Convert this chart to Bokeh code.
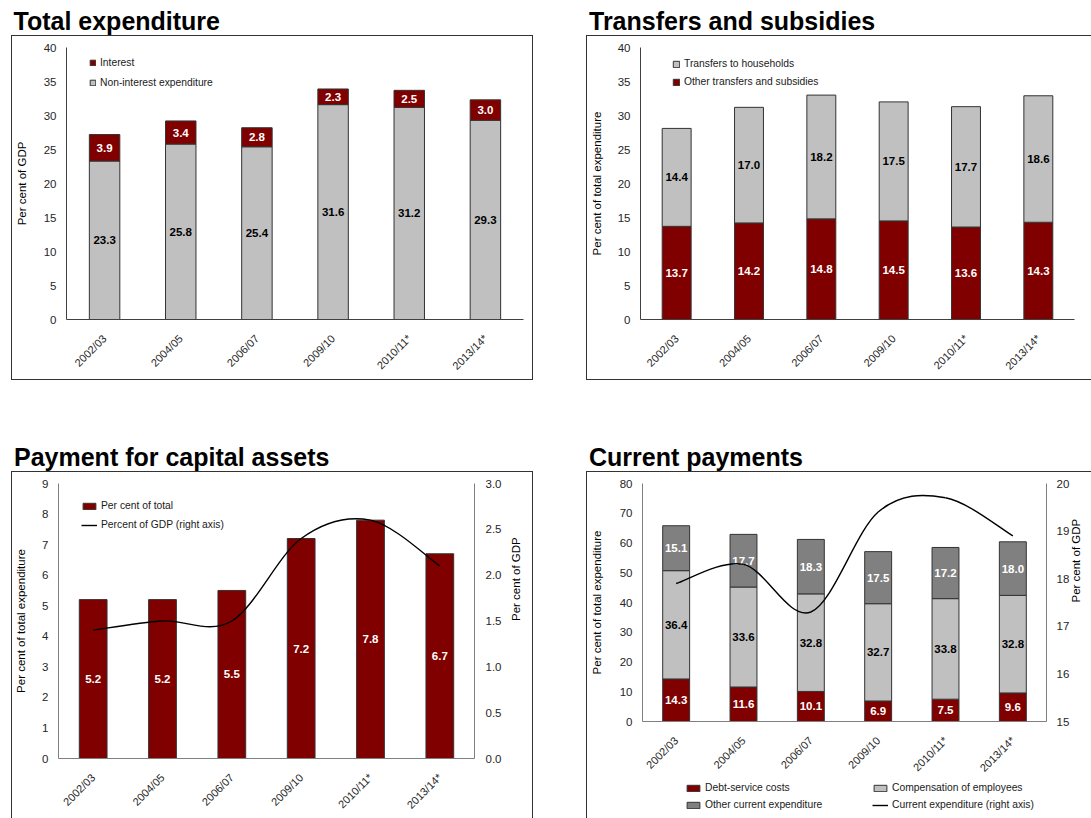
import math
from bokeh.plotting import figure
from bokeh.models import (Range1d, LinearAxis, FixedTicker, SingleIntervalTicker, Legend,
                          LegendItem, Label, PrintfTickFormatter)
from bokeh.layouts import column, row
from bokeh.embed import file_html
from bokeh.resources import INLINE
from bokeh.core.properties import value

# ---------------- data ----------------
categories = ["2002/03", "2004/05", "2006/07", "2009/10", "2010/11*", "2013/14*"]

# Total expenditure (per cent of GDP)
te_non_interest = [23.3, 25.8, 25.4, 31.6, 31.2, 29.3]
te_interest = [3.9, 3.4, 2.8, 2.3, 2.5, 3.0]

# Transfers and subsidies (per cent of total expenditure)
ts_other = [13.7, 14.2, 14.8, 14.5, 13.6, 14.3]
ts_households = [14.4, 17.0, 18.2, 17.5, 17.7, 18.6]

# Payment for capital assets
cap_share = [5.2, 5.2, 5.5, 7.2, 7.8, 6.7]      # per cent of total expenditure
cap_gdp = [1.4, 1.5, 1.5, 2.4, 2.6, 2.1]        # per cent of GDP (right axis)

# Current payments
cp_debt = [14.3, 11.6, 10.1, 6.9, 7.5, 9.6]
cp_comp = [36.4, 33.6, 32.8, 32.7, 33.8, 32.8]
cp_other = [15.1, 17.7, 18.3, 17.5, 17.2, 18.0]
cp_gdp = [17.9, 18.3, 17.3, 19.4, 19.7, 18.9]   # per cent of GDP (right axis)

# ---------------- style ----------------
MAROON = "#800000"
LIGHT = "#C0C0C0"
DARK = "#808080"
EDGE = "#333333"
FONT = "Liberation Sans"
BAR_W = 0.4
BOX = {"outline": "1.5px solid #333333"}
NAN = [float("nan")]

xs = list(range(len(categories)))


def style_axis(ax, color):
    ax.axis_line_color = color
    ax.axis_line_width = 1
    ax.major_tick_line_color = None
    ax.minor_tick_line_color = None
    ax.major_tick_out = 0
    ax.major_tick_in = 0
    ax.major_label_standoff = 10
    ax.major_label_text_font = FONT
    ax.major_label_text_font_size = "11.5px"
    ax.major_label_text_color = "#262626"
    ax.axis_label_text_font = FONT
    ax.axis_label_text_font_size = "11.5px"
    ax.axis_label_text_font_style = "normal"
    ax.axis_label_text_color = "black"


def blank_fig(width, height):
    p = figure(width=width, height=height, title=None,
               x_range=Range1d(0, width), y_range=Range1d(0, height),
               x_axis_location=None, y_axis_location=None,
               output_backend="svg", toolbar_location=None, tools="",
               min_border=0, frame_align=False)
    p.outline_line_color = None
    p.xgrid.visible = False
    p.ygrid.visible = False
    return p


def title_fig(text, width, x):
    p = blank_fig(width, 36)
    p.add_layout(Label(x=x, y=16, text=text, text_font=FONT, text_font_size="25px",
                       text_font_style="bold", text_color="black",
                       text_baseline="alphabetic"))
    return p


def body_fig(width, height, left, right, top, bottom, y_start, y_end, y_step,
             axis_color, label, label_standoff, margin, styles):
    p = figure(width=width, height=height, title=None,
               x_range=Range1d(-0.5, len(categories) - 0.5),
               y_range=Range1d(y_start, y_end),
               output_backend="svg", toolbar_location=None, tools="",
               min_border_left=left, min_border_right=width - right,
               min_border_top=top, min_border_bottom=height - bottom,
               frame_align=False, margin=margin, styles=styles)
    p.outline_line_color = None
    p.xgrid.visible = False
    p.ygrid.visible = False
    p.background_fill_color = "white"
    p.border_fill_color = "white"

    xa = p.xaxis[0]
    xa.ticker = FixedTicker(ticks=xs)
    xa.major_label_overrides = {i: c for i, c in enumerate(categories)}
    xa.major_label_orientation = math.pi / 4
    ya = p.yaxis[0]
    ya.ticker = SingleIntervalTicker(interval=y_step, num_minor_ticks=0)
    ya.axis_label = label
    for ax in (xa, ya):
        style_axis(ax, axis_color)
    ya.axis_label_standoff = label_standoff
    xa.major_label_text_font_size = "11px"
    xa.major_label_standoff = 17
    return p


def bar_labels(p, bottoms, vals, color):
    mids = [b + v / 2 for b, v in zip(bottoms, vals)]
    p.text(x=xs, y=mids, text=[f"{v:.1f}" for v in vals],
           text_align="center", text_baseline="middle",
           text_font=value(FONT), text_font_size="11.5px", text_font_style="bold",
           text_color=color)


def smooth_line(p, ys, y_range_name):
    n = len(ys)
    x0, y0, x1, y1, cx0, cy0, cx1, cy1 = [], [], [], [], [], [], [], []
    for i in range(n - 1):
        ip = max(i - 1, 0)
        inx = min(i + 2, n - 1)
        x0.append(xs[i]); y0.append(ys[i])
        x1.append(xs[i + 1]); y1.append(ys[i + 1])
        cx0.append(xs[i] + (xs[i + 1] - xs[ip]) / 6)
        cy0.append(ys[i] + (ys[i + 1] - ys[ip]) / 6)
        cx1.append(xs[i + 1] - (xs[inx] - xs[i]) / 6)
        cy1.append(ys[i + 1] - (ys[inx] - ys[i]) / 6)
    return p.bezier(x0=x0, y0=y0, x1=x1, y1=y1, cx0=cx0, cy0=cy0, cx1=cx1, cy1=cy1,
                    line_color="black", line_width=1.4, y_range_name=y_range_name)


def make_legend(items, x, y, gw, gh, spacing):
    return Legend(items=items, location=(x, y), orientation="vertical",
                  glyph_width=gw, glyph_height=gh, label_height=gh,
                  label_standoff=4, spacing=spacing, padding=0, margin=0,
                  border_line_alpha=0, background_fill_alpha=0,
                  label_text_font=FONT, label_text_font_size="10.3px",
                  label_text_color="#1a1a1a")


# ---------------- Panel 1: Total expenditure ----------------
t1 = title_fig("Total expenditure", 575, 13)
p1 = body_fig(520, 343, 54, 511, 11, 286, 0, 40, 5,
              "#404040", "Per cent of GDP", 13, (0, 43, 57, 12), BOX)
r_non = p1.vbar(x=xs, bottom=0, top=te_non_interest, width=BAR_W,
                fill_color=LIGHT, line_color=EDGE, line_width=1)
te_tot = [a + b for a, b in zip(te_non_interest, te_interest)]
r_int = p1.vbar(x=xs, bottom=te_non_interest, top=te_tot, width=BAR_W,
                fill_color=MAROON, line_color=EDGE, line_width=1)
bar_labels(p1, [0] * 6, te_non_interest, "black")
bar_labels(p1, te_non_interest, te_interest, "white")
p1.add_layout(make_legend([LegendItem(label="Interest", renderers=[r_int]),
                           LegendItem(label="Non-interest expenditure", renderers=[r_non])],
                          23, 231, 7, 7, 9))

# ---------------- Panel 2: Transfers and subsidies ----------------
t2 = title_fig("Transfers and subsidies", 516, 13.5)
p2 = body_fig(504, 343, 51, 487, 11, 286, 0, 40, 5,
              "#404040", "Per cent of total expenditure", 12, (0, 0, 57, 12), BOX)
r_oth = p2.vbar(x=xs, bottom=0, top=ts_other, width=BAR_W,
                fill_color=MAROON, line_color=EDGE, line_width=1)
ts_tot = [a + b for a, b in zip(ts_other, ts_households)]
r_hh = p2.vbar(x=xs, bottom=ts_other, top=ts_tot, width=BAR_W,
               fill_color=LIGHT, line_color=EDGE, line_width=1)
bar_labels(p2, [0] * 6, ts_other, "white")
bar_labels(p2, ts_other, ts_households, "black")
p2.add_layout(make_legend([LegendItem(label="Transfers to households", renderers=[r_hh]),
                           LegendItem(label="Other transfers and subsidies", renderers=[r_oth])],
                          32, 232, 8, 8, 7))

# ---------------- Panel 3: Payment for capital assets ----------------
t3 = title_fig("Payment for capital assets", 575, 13.5)
p3 = body_fig(520, 346, 46, 462, 11, 289, 0, 9, 1,
              "#7f7f7f", "Per cent of total expenditure", 12, (0, 43, 0, 12), BOX)
p3.extra_y_ranges = {"right": Range1d(0, 3)}
ra3 = LinearAxis(y_range_name="right", axis_label="Per cent of GDP",
                 ticker=SingleIntervalTicker(interval=0.5, num_minor_ticks=0),
                 formatter=PrintfTickFormatter(format="%.1f"))
style_axis(ra3, "#7f7f7f")
ra3.major_label_standoff = 11
ra3.axis_label_standoff = 12
ra3.axis_label_orientation = math.pi / 2
p3.add_layout(ra3, "right")
r_cap = p3.vbar(x=xs, bottom=0, top=cap_share, width=BAR_W,
                fill_color=MAROON, line_color=EDGE, line_width=1)
bar_labels(p3, [0] * 6, cap_share, "white")
r_l3 = smooth_line(p3, cap_gdp, "right")
p3.add_layout(make_legend([LegendItem(label="Per cent of total", renderers=[r_cap]),
                           LegendItem(label="Percent of GDP (right axis)", renderers=[r_l3])],
                          23, 228, 16, 8, 8))

# ---------------- Panel 4: Current payments ----------------
t4 = title_fig("Current payments", 516, 13.5)
p4 = body_fig(504, 309, 53, 464, 11, 249, 0, 80, 10,
              "#7f7f7f", "Per cent of total expenditure", 14, 0, {})
p4.extra_y_ranges = {"right": Range1d(15, 20)}
ra4 = LinearAxis(y_range_name="right", axis_label="Per cent of GDP",
                 ticker=SingleIntervalTicker(interval=1, num_minor_ticks=0))
style_axis(ra4, "#7f7f7f")
ra4.major_label_standoff = 10
ra4.axis_label_standoff = 4
ra4.axis_label_orientation = math.pi / 2
p4.add_layout(ra4, "right")
r_debt = p4.vbar(x=xs, bottom=0, top=cp_debt, width=BAR_W,
                 fill_color=MAROON, line_color=EDGE, line_width=1)
c1 = [a + b for a, b in zip(cp_debt, cp_comp)]
r_comp = p4.vbar(x=xs, bottom=cp_debt, top=c1, width=BAR_W,
                 fill_color=LIGHT, line_color=EDGE, line_width=1)
c2 = [a + b for a, b in zip(c1, cp_other)]
r_ocur = p4.vbar(x=xs, bottom=c1, top=c2, width=BAR_W,
                 fill_color=DARK, line_color=EDGE, line_width=1)
bar_labels(p4, [0] * 6, cp_debt, "white")
bar_labels(p4, cp_debt, cp_comp, "black")
bar_labels(p4, c1, cp_other, "white")
smooth_line(p4, cp_gdp, "right")

# legend strip under the current-payments chart (swatch renderers hold no visible data)
lg4 = blank_fig(504, 37)
k_debt = lg4.vbar(x=NAN, top=NAN, width=BAR_W, fill_color=MAROON, line_color=EDGE, line_width=1)
k_ocur = lg4.vbar(x=NAN, top=NAN, width=BAR_W, fill_color=DARK, line_color=EDGE, line_width=1)
k_comp = lg4.vbar(x=NAN, top=NAN, width=BAR_W, fill_color=LIGHT, line_color=EDGE, line_width=1)
k_line = lg4.line(x=NAN, y=NAN, line_color="black", line_width=1.4)
lg4.add_layout(make_legend([LegendItem(label="Debt-service costs", renderers=[k_debt]),
                            LegendItem(label="Other current expenditure", renderers=[k_ocur])],
                           98, 8, 16, 8, 6))
lg4.add_layout(make_legend([LegendItem(label="Compensation of employees", renderers=[k_comp]),
                            LegendItem(label="Current expenditure (right axis)", renderers=[k_line])],
                           285, 8, 16, 8, 6))
panel4 = column(p4, lg4, spacing=0, margin=(0, 0, 0, 12), styles=BOX)

layout = column(row(column(t1, p1), column(t2, p2)),
                row(column(t3, p3), column(t4, panel4)))
open("out.html", "w").write(file_html(layout, INLINE))
